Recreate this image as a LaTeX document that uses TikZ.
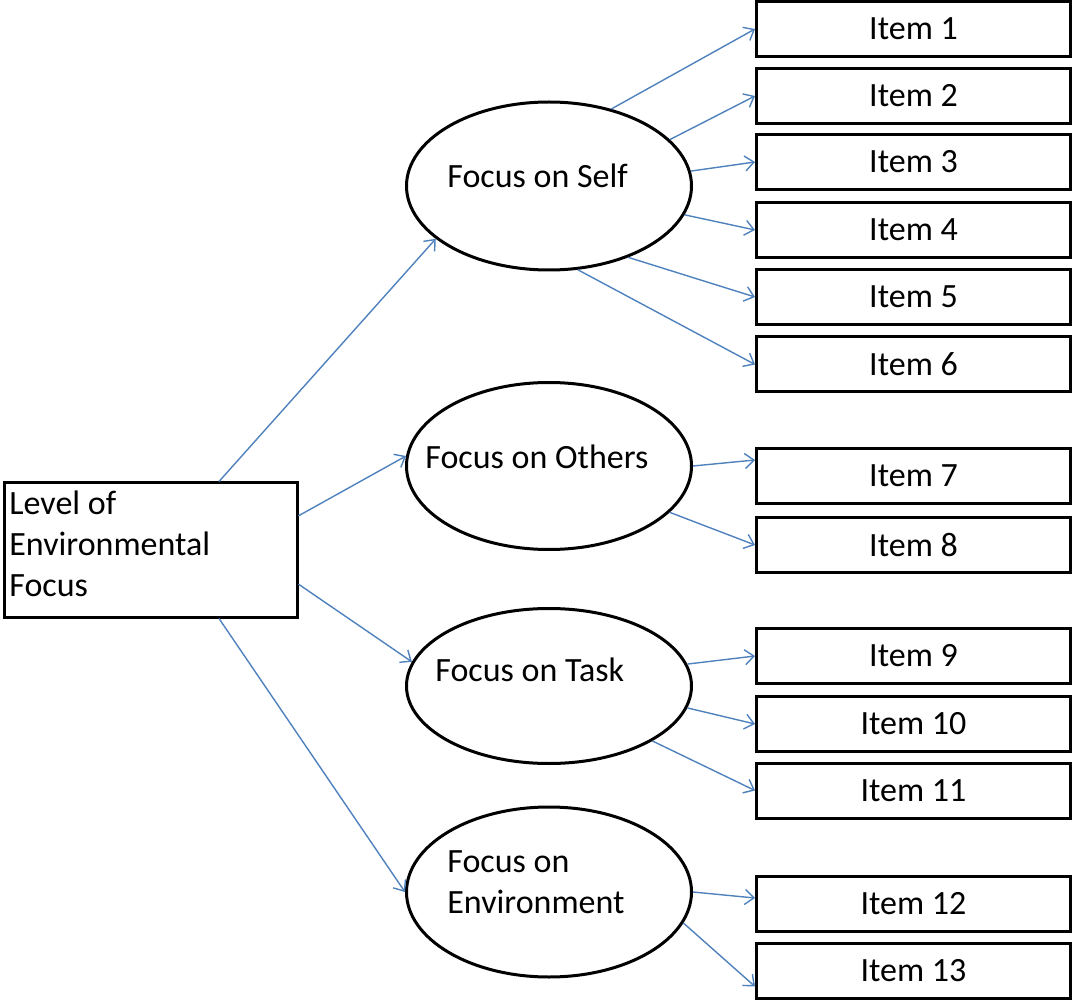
\documentclass[tikz,border=0pt]{standalone}
\usepackage{fontspec}
\setmainfont{Carlito}
\usepackage{tikz}
\usetikzlibrary{arrows.meta, shapes.geometric, positioning}
\definecolor{linkBlue}{HTML}{4F81BD}

\begin{document}
\begin{tikzpicture}[x=0.5pt, y=-0.5pt,
    every node/.style={font=\fontsize{17}{20.5}\selectfont},
    itembox/.style={draw, line width=1.5pt, minimum width=157pt, minimum height=27.5pt},
    focus/.style={ellipse, draw, line width=1.5pt, minimum width=142.5pt},
    lbl/.style={inner sep=0pt, anchor=west},
    link/.style={-{Straight Barb[length=4.5pt, width=7.5pt]}, linkBlue, line width=0.7pt}]
    \useasboundingbox (0,0) rectangle (1072,1000);
    % root box
    \node[draw, line width=1.5pt, minimum width=146.5pt, minimum height=67pt] (lev) at (150.5,550) {};
    \node[lbl, align=left] at (9,544) {Level of\\Environmental\\Focus};
    % the four factors
    \node[focus, minimum height=84pt] (self) at (549,186) {};
    \node[focus, minimum height=83.5pt] (others) at (549,466) {};
    \node[focus, minimum height=77.5pt] (task) at (549,686) {};
    \node[focus, minimum height=85pt] (env) at (549,892) {};
    \node[lbl] at (447,176) {Focus on Self};
    \node[lbl] at (425,457) {Focus on Others};
    \node[lbl] at (435,670) {Focus on Task};
    \node[lbl, align=left] at (447,882) {Focus on\\Environment};
    % items
    \foreach \n/\y in {1/29, 2/96, 3/162, 4/230, 5/297, 6/364.5, 7/476, 8/545,
                       9/656, 10/724, 11/790.5, 12/904, 13/970.5}
        \node[itembox] (item\n) at (913.5,\y) {Item \n};
    % links
    \draw[link] (lev.45) -- (self.205);
    \draw[link] (lev.13) -- (others.176);
    \draw[link] (lev.347) -- (task.170);
    \draw[link] (lev.315) -- (env.180);
    \foreach \a/\n in {51/1, 21/2, 6/3, 348/4, 318/5, 289/6}
        \draw[link] (self.\a) -- (item\n.west);
    \draw[link] (others.0) -- ([yshift=8pt]item7.west);
    \draw[link] (others.339) -- (item8.west);
    \foreach \a/\n in {9.5/9, 351/10, 332/11}
        \draw[link] (task.\a) -- (item\n.west);
    \draw[link] (env.0) -- ([yshift=3pt]item12.west);
    \draw[link] (env.347) -- ([yshift=-8pt]item13.west);
\end{tikzpicture}
\end{document}
